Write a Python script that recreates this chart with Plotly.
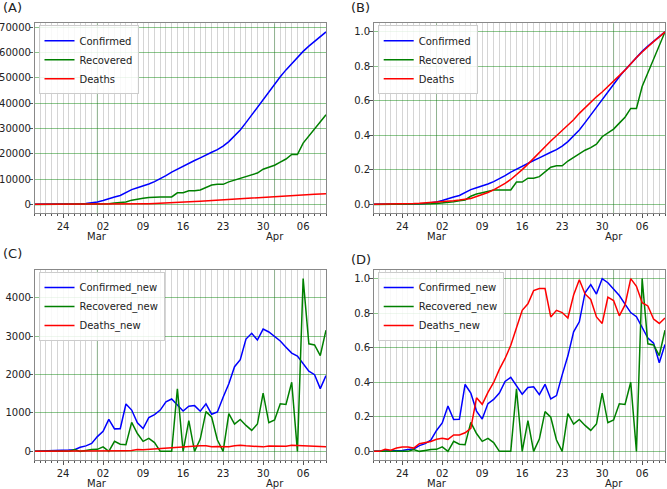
import numpy as np
import pandas as pd
import plotly.graph_objects as go

# ---- data (daily cumulative counts, 2020-02-19 .. 2020-04-10) ----
dates = pd.date_range("2020-02-19", "2020-04-10", freq="D")
confirmed = [2, 5, 18, 28, 43, 61, 95, 139, 245, 388, 593,
             978, 1501, 2336, 2922, 3513, 4747, 5823, 6566, 7161, 8042, 9000, 10075, 11364, 12729,
             13938, 14991, 16169, 17361, 18407, 19644, 20610, 21638, 23049, 24811, 27017, 29406,
             32332, 35408, 38309, 41495, 44605,
             47593, 50468, 53183, 55743, 58226, 60500, 62589, 64586, 66220, 68192]
recovered = [0, 0, 0, 0, 0, 0, 0, 49, 49, 73, 123,
             175, 291, 291, 552, 739, 913, 1669, 2134, 2394, 2731, 2959, 2959, 2959, 2959,
             4590, 4590, 5389, 5389, 5710, 6745, 7635, 7931, 7931, 8913, 9625, 10457,
             11133, 11679, 12391, 13911, 14656,
             15473, 16711, 17935, 19736, 19736, 24236, 27039, 29812, 32309, 35465]
deaths = [2, 2, 4, 5, 8, 12, 16, 19, 26, 34, 43,
          54, 66, 77, 92, 107, 124, 145, 194, 237, 291, 354, 429, 514, 611,
          724, 853, 988, 1135, 1284, 1433, 1556, 1685, 1812, 1934, 2077, 2234,
          2378, 2517, 2640, 2757, 2898,
          3036, 3160, 3294, 3452, 3603, 3739, 3872, 3993, 4110, 4232]

series_names = ["Confirmed", "Recovered", "Deaths"]
panel_labels = ["(A)", "(B)", "(C)", "(D)"]
week_ticks = pd.to_datetime(["2020-02-24", "2020-03-02", "2020-03-09", "2020-03-16",
                             "2020-03-23", "2020-03-30", "2020-04-06"])
week_text = ["24", "02", "09", "16", "23", "30", "06"]
month_ticks = pd.to_datetime(["2020-03-01", "2020-04-01"])
month_text = ["Mar", "Apr"]

cum = [np.array(confirmed, float), np.array(recovered, float), np.array(deaths, float)]
new = [np.concatenate([[0.0], np.diff(c)]) for c in cum]
norm_cum = [c / c.max() for c in cum]
norm_new = [n / n.max() for n in new]

colors = ["#0000ff", "#008000", "#ff0000"]

W, H = 667, 489
def px_x(p): return p / W
def px_y(p): return 1 - p / H

# plot-area pixel boxes: (left, right, top, bottom)
boxes = [(34.5, 326, 23.3, 213), (373.7, 665, 23.3, 213),
         (34.5, 326, 270, 460), (373.7, 665, 270, 460)]
label_pos = [(1, 7.5), (349, 7.5), (1, 253), (349, 259)]

fig = go.Figure()
FONT = "DejaVu Sans"
TXT = "#222222"
GREEN_GRID = "rgba(0,128,0,0.45)"
GRAY_GRID = "rgba(150,150,150,0.40)"

panels = [
    (cum, series_names, [-3410, 71602], dict(tickvals=list(range(0, 70001, 10000)), tickformat="d")),
    (norm_cum, series_names, [-0.05, 1.05], dict(tickvals=[0, 0.2, 0.4, 0.6, 0.8, 1.0], tickformat=".1f")),
    (new, [s + "_new" for s in series_names], [-225, 4725], dict(tickvals=[0, 1000, 2000, 3000, 4000], tickformat="d")),
    (norm_new, [s + "_new" for s in series_names], [-0.05, 1.05], dict(tickvals=[0, 0.2, 0.4, 0.6, 0.8, 1.0], tickformat=".1f")),
]

annotations = []
shapes = []
for i, (data, names, yr, yt) in enumerate(panels):
    k = "" if i == 0 else str(i + 1)
    xa, ya = "x" + k, "y" + k
    leg = "legend" + k
    for j in range(3):
        fig.add_trace(go.Scatter(x=dates, y=data[j], mode="lines", name=names[j],
                                 line=dict(color=colors[j], width=1.5),
                                 xaxis=xa, yaxis=ya, legend=leg))
    l, r, t, b = boxes[i]
    fig.layout["xaxis" + k] = dict(
        domain=[px_x(l), px_x(r)], anchor=ya, automargin=False,
        range=[dates[0], dates[-1]],
        tickvals=week_ticks, ticktext=week_text,
        showgrid=False, zeroline=False,
        ticks="outside", ticklen=4, tickcolor="#555",
        minor=dict(dtick=86400000, tick0="2020-02-19", showgrid=True, gridcolor=GRAY_GRID,
                   gridwidth=1, ticks="outside", ticklen=2, tickcolor="#555"),
        showline=True, linecolor="#888", linewidth=1.2, mirror=True,
        tickfont=dict(family=FONT, size=10, color=TXT),
    )
    fig.layout["yaxis" + k] = dict(
        domain=[px_y(b), px_y(t)], anchor=xa, automargin=False,
        range=yr, **yt,
        showgrid=True, gridcolor=GREEN_GRID, gridwidth=1, zeroline=False,
        ticks="outside", ticklen=3.5, tickcolor="#555", ticklabelstandoff=-3,
        showline=True, linecolor="#888", linewidth=1.2, mirror=True,
        tickfont=dict(family=FONT, size=10, color=TXT),
    )
    fig.layout[leg] = dict(
        x=px_x(l + 4), y=px_y(t + 2), xanchor="left", yanchor="top",
        bgcolor="rgba(255,255,255,0.85)", bordercolor="#cccccc", borderwidth=1,
        font=dict(family=FONT, size=10, color=TXT),
        itemwidth=30, tracegroupgap=0,
    )
    for m in month_ticks:
        shapes.append(dict(type="line", xref=xa, yref=ya + " domain", x0=m, x1=m, y0=0, y1=1,
                           line=dict(color=GREEN_GRID, width=1), layer="below"))
    for m, mt in zip(month_ticks, month_text):
        annotations.append(dict(text=mt, x=m, xref=xa, y=px_y(b + 31), yref="paper",
                                showarrow=False, xanchor="center", yanchor="bottom",
                                font=dict(family=FONT, size=10, color=TXT)))
    lx, lyc = label_pos[i]
    annotations.append(dict(text=panel_labels[i], x=px_x(lx), y=px_y(lyc), xref="paper", yref="paper",
                            showarrow=False, xanchor="left", yanchor="middle",
                            font=dict(family=FONT, size=13, color=TXT)))

fig.update_layout(width=W, height=H, margin=dict(l=0, r=0, t=0, b=0, autoexpand=False),
                  paper_bgcolor="white", plot_bgcolor="white",
                  annotations=annotations, shapes=shapes, showlegend=True)

fig.write_html("out.html", config={"displayModeBar": False},
               post_script="document.body.style.margin='0';document.body.style.overflow='hidden';")
